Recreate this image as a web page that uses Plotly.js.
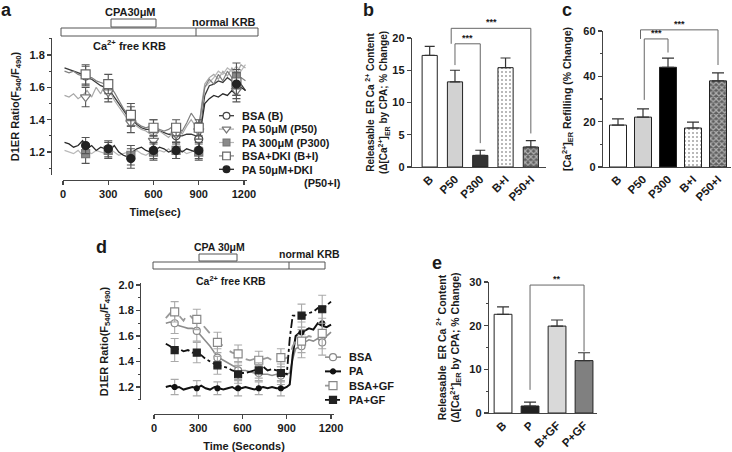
<!DOCTYPE html>
<html><head><meta charset="utf-8">
<script src="https://cdn.plot.ly/plotly-3.0.1.min.js"></script>
<style>body{margin:0;background:#fff}#chart{width:732px;height:452px}</style>
</head><body><div id="chart"></div>
<script>
// ================= DATA =================
// Panel a: continuous traces
const timeA = [10,40,70,100,130,160,190,220,250,280,310,340,370,400,430,460,490,520,550,580,610,640,670,700,730,760,790,820,850,880,900,920,940,970,1000,1030,1060,1090,1120,1150,1180,1210];
const lineA_B    = [1.72,1.71,1.70,1.69,1.68,1.66,1.65,1.63,1.61,1.60,1.58,1.54,1.50,1.46,1.42,1.40,1.37,1.35,1.34,1.34,1.33,1.33,1.32,1.31,1.31,1.30,1.30,1.31,1.31,1.30,1.31,1.42,1.55,1.61,1.62,1.64,1.63,1.66,1.64,1.60,1.62,1.58];
const lineA_P50  = [1.55,1.54,1.56,1.53,1.55,1.58,1.54,1.60,1.56,1.62,1.58,1.52,1.48,1.44,1.40,1.37,1.36,1.34,1.33,1.31,1.30,1.33,1.31,1.29,1.32,1.35,1.31,1.36,1.40,1.36,1.33,1.50,1.62,1.66,1.68,1.65,1.70,1.67,1.72,1.68,1.74,1.72];
const lineA_P300 = [1.21,1.20,1.19,1.21,1.18,1.20,1.19,1.21,1.20,1.19,1.22,1.20,1.18,1.19,1.20,1.19,1.21,1.19,1.18,1.20,1.19,1.21,1.20,1.22,1.19,1.20,1.21,1.19,1.20,1.22,1.21,1.45,1.60,1.63,1.66,1.70,1.68,1.72,1.70,1.73,1.70,1.74];
const lineA_BI   = [1.70,1.69,1.70,1.68,1.67,1.66,1.66,1.64,1.63,1.62,1.60,1.57,1.52,1.47,1.43,1.41,1.38,1.36,1.35,1.36,1.35,1.34,1.33,1.34,1.36,1.35,1.33,1.38,1.44,1.40,1.36,1.48,1.60,1.65,1.62,1.68,1.64,1.70,1.66,1.62,1.66,1.64];
const lineA_P50I = [1.26,1.25,1.23,1.24,1.27,1.22,1.24,1.21,1.23,1.22,1.21,1.24,1.20,1.18,1.17,1.20,1.22,1.23,1.21,1.20,1.21,1.23,1.22,1.20,1.21,1.22,1.20,1.22,1.21,1.20,1.21,1.38,1.50,1.53,1.55,1.54,1.56,1.55,1.58,1.55,1.60,1.58];
// Panel a: means +/- error at sampled times
const markTimeA = [150,300,450,600,750,900,1150];
const markA_B    = [1.67,1.58,1.42,1.35,1.30,1.28,1.60];
const errA_B     = [0.06,0.05,0.06,0.05,0.05,0.05,0.07];
const markA_P50  = [1.54,1.57,1.38,1.27,1.31,1.33,1.58];
const errA_P50   = [0.06,0.06,0.06,0.05,0.05,0.05,0.07];
const markA_P300 = [1.19,1.21,1.18,1.20,1.21,1.20,1.67];
const errA_P300  = [0.06,0.05,0.06,0.05,0.05,0.05,0.08];
const markA_BI   = [1.68,1.62,1.43,1.35,1.35,1.35,1.63];
const errA_BI    = [0.06,0.06,0.07,0.05,0.05,0.05,0.08];
const markA_P50I = [1.24,1.22,1.16,1.21,1.21,1.21,1.62];
const errA_P50I  = [0.05,0.05,0.06,0.05,0.05,0.05,0.07];

// Panel b: releasable ER Ca2+ content
const catsB = ['B','P50','P300','B+I','P50+I'];
const valsB = [17.3,13.2,1.8,15.4,3.1];
const errsB = [1.4,1.8,0.8,1.5,1.0];

// Panel c: ER refilling
const catsC = ['B','P50','P300','B+I','P50+I'];
const valsC = [18.5,22.0,44.0,17.2,38.0];
const errsC = [2.7,3.6,4.0,2.6,3.5];

// Panel d: continuous traces
const timeD = [80,110,140,170,200,230,260,290,320,350,380,410,440,470,500,530,560,590,620,650,680,710,740,770,800,830,860,880,900,920,940,960,990,1020,1050,1080,1110,1140,1170,1200];
const lineD_BSA  = [1.70,1.71,1.70,1.68,1.67,1.66,1.66,1.64,1.60,1.56,1.52,1.47,1.43,1.41,1.39,1.37,1.35,1.33,1.33,1.32,1.31,1.31,1.30,1.30,1.29,1.30,1.29,1.29,1.30,1.31,1.42,1.50,1.52,1.55,1.57,1.56,1.58,1.55,1.60,1.63];
const lineD_PA   = [1.20,1.21,1.19,1.20,1.18,1.19,1.20,1.19,1.21,1.19,1.18,1.20,1.19,1.18,1.19,1.20,1.18,1.19,1.20,1.19,1.18,1.19,1.20,1.19,1.20,1.19,1.19,1.19,1.20,1.22,1.45,1.60,1.63,1.64,1.66,1.65,1.70,1.68,1.67,1.69];
const lineD_BGF  = [1.74,1.78,1.79,1.76,1.72,1.78,1.74,1.73,1.70,1.66,1.62,1.58,1.55,1.52,1.49,1.47,1.46,1.44,1.42,1.41,1.42,1.41,1.42,1.43,1.41,1.43,1.43,1.42,1.43,1.44,1.52,1.56,1.56,1.58,1.60,1.59,1.62,1.60,1.64,1.68];
const lineD_PGF  = [1.54,1.52,1.49,1.50,1.48,1.49,1.47,1.47,1.45,1.42,1.40,1.38,1.37,1.36,1.35,1.33,1.32,1.31,1.31,1.32,1.33,1.35,1.36,1.33,1.34,1.33,1.32,1.31,1.30,1.58,1.76,1.76,1.75,1.76,1.78,1.79,1.82,1.80,1.84,1.87];
const markTimeD = [140,290,430,570,710,860,1000,1140];
const markD_BSA = [1.70,1.64,1.43,1.33,1.31,1.29,1.52,1.55];
const errD_BSA  = [0.08,0.08,0.07,0.07,0.06,0.07,0.09,0.10];
const markD_PA  = [1.20,1.19,1.19,1.19,1.19,1.19,1.63,1.70];
const errD_PA   = [0.06,0.06,0.05,0.06,0.05,0.06,0.08,0.09];
const markD_BGF = [1.79,1.73,1.55,1.46,1.41,1.43,1.56,1.62];
const errD_BGF  = [0.08,0.08,0.08,0.07,0.07,0.07,0.09,0.12];
const markD_PGF = [1.49,1.47,1.37,1.30,1.33,1.31,1.76,1.81];
const errD_PGF  = [0.09,0.08,0.07,0.07,0.06,0.07,0.09,0.11];

// Panel e
const catsE = ['B','P','B+GF','P+GF'];
const valsE = [22.6,1.6,19.9,12.0];
const errsE = [1.7,0.9,1.4,1.8];

// ================= STYLE / LAYOUT =================
const W = 732, H = 452;
const X = p => p / W;
const Y = p => 1 - p / H;
const FAM = '"Liberation Sans", Arial, sans-serif';
const F = (size, extra) => Object.assign({family: FAM, size: size, color: '#1a1a1a', weight: 'bold'}, extra || {});
const AX = extra => Object.assign({showline: true, linecolor: '#444', linewidth: 1.2, ticks: 'outside', tickcolor: '#444',
  tickwidth: 1.2, ticklen: 4, showgrid: false, zeroline: false, tickfont: F(11), fixedrange: true}, extra);

const seriesA = [
  {name: 'BSA (B)',         line: lineA_B,    mark: markA_B,    err: errA_B,    lc: '#3a3a3a', lw: 1.3, sym: 'circle',        mfill: '#fff', mline: '#444', ms: 8},
  {name: 'PA 50μM (P50)',   line: lineA_P50,  mark: markA_P50,  err: errA_P50,  lc: '#a8a8a8', lw: 1.2, sym: 'triangle-down', mfill: '#fff', mline: '#777', ms: 9},
  {name: 'PA 300μM (P300)', line: lineA_P300, mark: markA_P300, err: errA_P300, lc: '#b8b8b8', lw: 1.2, sym: 'square',        mfill: '#8a8a8a', mline: '#777', ms: 8},
  {name: 'BSA+DKI (B+I)',   line: lineA_BI,   mark: markA_BI,   err: errA_BI,   lc: '#808080', lw: 1.2, sym: 'square',        mfill: '#fff', mline: '#666', ms: 9},
  {name: 'PA 50μM+DKI',     line: lineA_P50I, mark: markA_P50I, err: errA_P50I, lc: '#2a2a2a', lw: 1.3, sym: 'circle',        mfill: '#222', mline: '#222', ms: 8}
];
const seriesD = [
  {name: 'BSA',    line: lineD_BSA, mark: markD_BSA, err: errD_BSA, lc: '#8c8c8c', lw: 1.6, dash: 'solid',   sym: 'circle', mfill: '#fff', mline: '#888', ms: 7},
  {name: 'PA',     line: lineD_PA,  mark: markD_PA,  err: errD_PA,  lc: '#111',    lw: 2.0, dash: 'solid',   sym: 'circle', mfill: '#111', mline: '#111', ms: 5},
  {name: 'BSA+GF', line: lineD_BGF, mark: markD_BGF, err: errD_BGF, lc: '#999',    lw: 1.8, dash: 'dash',    sym: 'square', mfill: '#fff', mline: '#888', ms: 8},
  {name: 'PA+GF',  line: lineD_PGF, mark: markD_PGF, err: errD_PGF, lc: '#111',    lw: 1.8, dash: 'dashdot', sym: 'square', mfill: '#222', mline: '#222', ms: 7}
];

const traces = [];
function addSeries(list, t, mt, xa, ya, legX, legY, errColor, legSizeScale) {
  list.forEach(s => {
    traces.push({type: 'scatter', mode: 'lines', x: t, y: s.line, xaxis: xa, yaxis: ya, showlegend: false,
      line: {color: s.lc, width: s.lw, dash: s.dash || 'solid'}, hoverinfo: 'skip'});
  });
  list.forEach(s => {
    traces.push({type: 'scatter', mode: 'markers', x: mt, y: s.mark, xaxis: xa, yaxis: ya, showlegend: false,
      marker: {symbol: s.sym, size: s.ms, color: s.mfill, line: {color: s.mline, width: 1.2}},
      error_y: {type: 'data', array: s.err, color: errColor, thickness: 1.1, width: 4}});
  });
  // legend keys (in their own hidden axes)
  list.forEach((s, i) => {
    traces.push({type: 'scatter', mode: 'lines', x: [0, 1], y: [i, i], xaxis: legX, yaxis: legY, showlegend: false,
      line: {color: s.lc, width: s.lw, dash: s.dash || 'solid'}, hoverinfo: 'skip'});
    traces.push({type: 'scatter', mode: 'markers', x: [0.5], y: [i], xaxis: legX, yaxis: legY, showlegend: false,
      marker: {symbol: s.sym, size: s.ms * legSizeScale, color: s.mfill, line: {color: s.mline, width: 1.2}}, hoverinfo: 'skip'});
  });
}
addSeries(seriesA, timeA, markTimeA, 'x', 'y', 'x6', 'y6', '#555', 0.85);
addSeries(seriesD, timeD, markTimeD, 'x4', 'y4', 'x7', 'y7', '#aaa', 1);

// bar charts
const barErr = (errs, w) => ({type: 'data', array: errs, arrayminus: errs.map(() => 0), symmetric: false, color: '#333', thickness: 1.2, width: w});
const colB = ['#fff', '#d2d2d2', '#333', '#fff', '#5e5e5e'];
const colC = ['#fff', '#d2d2d2', '#000', '#fff', '#5e5e5e'];
const pat = () => ({shape: ['', '', '', '.', 'x'], fillmode: 'overlay', fgcolor: ['#fff', '#fff', '#fff', '#b4b4b4', '#111'],
  size: [6, 6, 6, 4, 4], solidity: [0.3, 0.3, 0.3, 0.2, 0.5]});
traces.push({type: 'bar', x: catsB, y: valsB, xaxis: 'x2', yaxis: 'y2', width: 0.6, showlegend: false,
  marker: {color: colB, line: {color: '#222', width: 1}, pattern: pat()},
  error_y: barErr(errsB, 5)});
traces.push({type: 'bar', x: catsC, y: valsC, xaxis: 'x3', yaxis: 'y3', width: 0.68, showlegend: false,
  marker: {color: colC, line: {color: '#222', width: 1}, pattern: pat()},
  error_y: barErr(errsC, 6)});
traces.push({type: 'bar', x: catsE, y: valsE, xaxis: 'x5', yaxis: 'y5', width: 0.66, showlegend: false,
  marker: {color: ['#fff', '#222', '#d9d9d9', '#808080'], line: {color: '#222', width: 1}},
  error_y: barErr(errsE, 6)});

const yA = {domain: [Y(175), Y(38)], range: [1.058, 1.905]};
const yB = {domain: [Y(167), Y(38)], range: [0, 20]};
const yC = {domain: [Y(167), Y(31)], range: [0, 60]};
const yD = {domain: [Y(400), Y(283)], range: [1.098, 2.016]};
const yE = {domain: [Y(413), Y(282)], range: [0, 30]};

const titleA = 'D1ER Ratio(F<sub>540</sub>/F<sub>490</sub>)';
const layout = {
  width: W, height: H, margin: {l: 0, r: 0, t: 0, b: 0}, paper_bgcolor: '#fff', plot_bgcolor: 'rgba(0,0,0,0)',
  showlegend: false, font: F(11), bargap: 0,
  xaxis: AX({domain: [X(63), X(247)], range: [0, 1220], anchor: 'free', position: Y(180), tickvals: [0, 300, 600, 900, 1200],
    title: {text: 'Time(sec)', font: F(11), standoff: 8}}),
  yaxis: AX(Object.assign({anchor: 'free', position: X(51), tick0: 1.2, dtick: 0.2, tickformat: '.1f',
    minor: {dtick: 0.1, ticks: 'outside', ticklen: 2, tickcolor: '#444'},
    title: {text: titleA, font: F(11), standoff: 6}}, yA)),
  xaxis2: AX({domain: [X(412), X(546)], range: [-0.7, 4.6], anchor: 'y2', ticks: '', tickangle: -45, type: 'category', tickfont: F(11.5)}),
  yaxis2: AX(Object.assign({anchor: 'x2', dtick: 5,
    title: {text: 'Releasable  ER Ca <sup>2+</sup> Content<br>(Δ[Ca<sup>2+</sup>]<sub>ER</sub> by CPA; % Change)', font: F(10), standoff: 2}}, yB)),
  xaxis3: AX({domain: [X(603), X(731)], range: [-0.6, 4.52], anchor: 'y3', ticks: '', tickangle: -45, type: 'category', tickfont: F(11.5)}),
  yaxis3: AX(Object.assign({anchor: 'x3', dtick: 20, minor: {dtick: 10, ticks: 'outside', ticklen: 2, tickcolor: '#444'},
    title: {text: '[Ca<sup>2+</sup>]<sub>ER</sub> Refilling (% Change)', font: F(10.5), standoff: 9}}, yC)),
  xaxis4: AX({domain: [X(154), X(334)], range: [0, 1220], anchor: 'free', position: Y(414), tickvals: [0, 300, 600, 900, 1200],
    title: {text: 'Time (Seconds)', font: F(11), standoff: 8}}),
  yaxis4: AX(Object.assign({anchor: 'free', position: X(140), tick0: 1.2, dtick: 0.2, tickformat: '.1f',
    minor: {dtick: 0.1, ticks: 'outside', ticklen: 2, tickcolor: '#444'},
    title: {text: titleA, font: F(11), standoff: 6}}, yD)),
  xaxis5: AX({domain: [X(489), X(597)], range: [-0.52, 3.48], anchor: 'y5', ticks: '', tickangle: -45, type: 'category', tickfont: F(11.5)}),
  yaxis5: AX(Object.assign({anchor: 'x5', dtick: 10, minor: {dtick: 5, ticks: 'outside', ticklen: 2, tickcolor: '#444'},
    title: {text: 'Releasable  ER Ca <sup>2+</sup> Content<br>(Δ[Ca<sup>2+</sup>]<sub>ER</sub> by CPA; % Change)', font: F(10.5), standoff: 7}}, yE)),
  // hidden legend-key axes
  xaxis6: {domain: [X(219), X(234)], range: [0, 1], visible: false, fixedrange: true, anchor: 'y6'},
  yaxis6: {domain: [Y(176), Y(109)], range: [4.5, -0.5], visible: false, fixedrange: true, anchor: 'x6'},
  xaxis7: {domain: [X(325), X(341)], range: [0, 1], visible: false, fixedrange: true, anchor: 'y7'},
  yaxis7: {domain: [Y(407), Y(350)], range: [3.5, -0.5], visible: false, fixedrange: true, anchor: 'x7'},
  shapes: [], annotations: []
};

const shapes = layout.shapes, ann = layout.annotations;
const box = (x0, y0, x1, y1) => shapes.push({type: 'rect', xref: 'paper', yref: 'paper', x0: X(x0), x1: X(x1), y0: Y(y1), y1: Y(y0),
  line: {color: '#555', width: 1}, fillcolor: 'rgba(0,0,0,0)'});
const vline = (x, y0, y1) => shapes.push({type: 'line', xref: 'paper', yref: 'paper', x0: X(x), x1: X(x), y0: Y(y0), y1: Y(y1), line: {color: '#555', width: 1}});
const txt = (s, x, y, size, extra) => ann.push(Object.assign({text: s, x: X(x), y: Y(y), xref: 'paper', yref: 'paper', showarrow: false,
  xanchor: 'center', yanchor: 'middle', font: F(size)}, extra || {}));

// protocol bars, panel a
box(111, 19, 156, 27); box(61, 28, 258, 36); vline(196, 28, 36);
txt('CPA30μM', 130, 12, 11); txt('normal KRB', 224, 22, 11); txt('Ca<sup>2+</sup> free KRB', 129, 45, 11);
// protocol bars, panel d
box(199, 254, 237, 261); box(153, 262, 325, 269); vline(289, 262, 269);
txt('CPA 30μM', 219, 247, 10.5); txt('normal KRB', 309, 254, 10.5); txt('Ca<sup>2+</sup> free KRB', 231, 280, 10.5);
// panel letters
txt('a', 6, 10, 18); txt('b', 368, 10, 18); txt('c', 567, 10, 18); txt('d', 102, 247, 18); txt('e', 437, 263, 18);
// legend texts
const legTextA = ['BSA (B)', 'PA 50μM (P50)', 'PA 300μM (P300)', 'BSA+DKI (B+I)', 'PA 50μM+DKI'];
legTextA.forEach((s, i) => txt(s, 240, 116 + 13.4 * i, 11, {xanchor: 'left'}));
txt('(P50+I)', 302, 183, 11, {xanchor: 'left'});
seriesD.forEach((s, i) => txt(s.name, 347, 357 + 14.3 * i, 11, {xanchor: 'left'}));

// significance brackets
function bracket(xref, yAx, x0, x1, b0, b1, top, label) {
  const yp = v => yAx.domain[0] + (v - yAx.range[0]) / (yAx.range[1] - yAx.range[0]) * (yAx.domain[1] - yAx.domain[0]);
  const st = {type: 'line', xref: xref, yref: 'paper', line: {color: '#666', width: 1}};
  shapes.push(Object.assign({x0: x0, x1: x0, y0: yp(b0), y1: yp(top)}, st));
  shapes.push(Object.assign({x0: x1, x1: x1, y0: yp(b1), y1: yp(top)}, st));
  shapes.push(Object.assign({x0: x0, x1: x1, y0: yp(top), y1: yp(top)}, st));
  ann.push({xref: xref, yref: 'paper', x: (x0 + x1) / 2, y: yp(top), text: label, showarrow: false, yanchor: 'bottom', font: F(9), yshift: -1});
}
bracket('x2', yB, 1, 2, valsB[1] + errsB[1] + 0.8, valsB[2] + errsB[2] + 1.1, 19.1, '***');
bracket('x2', yB, 0.85, 4, 19.1, valsB[4] + errsB[4] + 1.1, 21.5, '***');
bracket('x3', yC, 1.05, 2, valsC[1] + errsC[1] + 4, valsC[2] + errsC[2] + 2.5, 56.5, '***');
bracket('x3', yC, 0.9, 4, 56.5, valsC[4] + errsC[4] + 3.5, 60.5, '***');
bracket('x5', yE, 1, 3, valsE[1] + errsE[1] + 2.8, valsE[3] + errsE[3] + 0.3, 29.3, '**');

Plotly.newPlot('chart', traces, layout, {staticPlot: true, displayModeBar: false});
</script>
</body></html>
